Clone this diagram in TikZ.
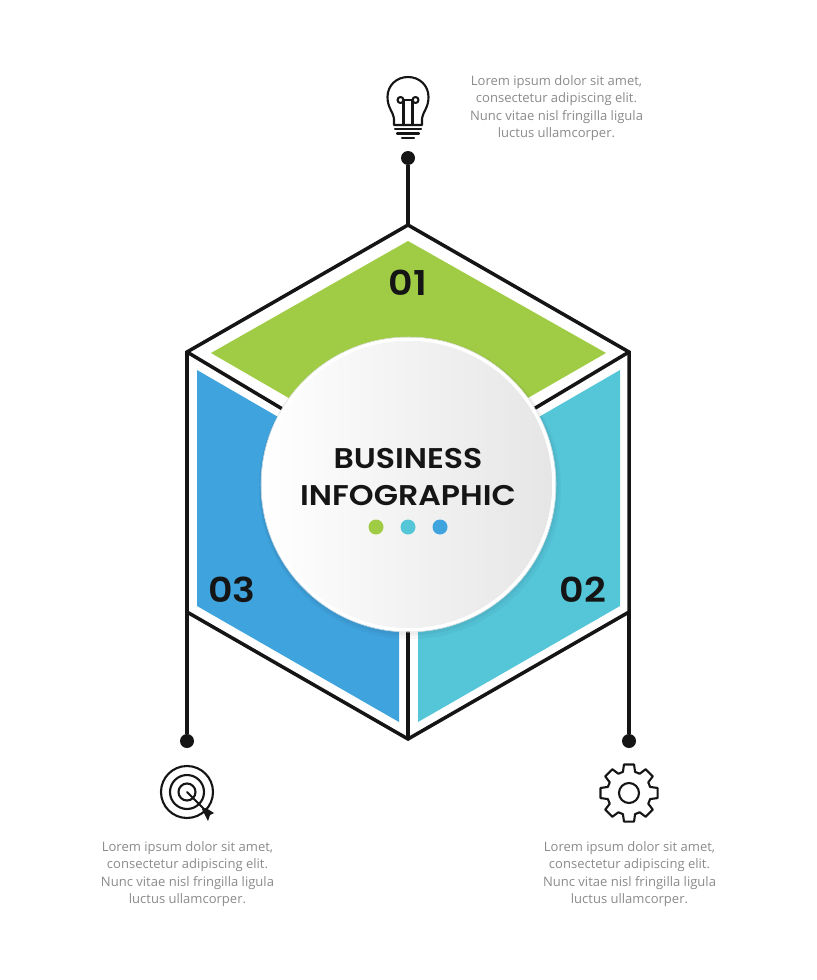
\documentclass[tikz,border=0pt]{standalone}
\usepackage{fontspec}
\setmainfont{Open Sans}
\newfontfamily\headfont[FakeStretch=1.11]{Poppins SemiBold}
\definecolor{leaf}{HTML}{A0CC45}
\definecolor{aqua}{HTML}{55C5D8}
\definecolor{sky}{HTML}{3FA3DD}
\definecolor{inkblack}{HTML}{151515}
\definecolor{loremgray}{HTML}{8A8A8A}
\tikzset{
  hexline/.style={draw=inkblack,line width=2pt,line join=miter},
  iconline/.style={draw=inkblack,line width=1.2pt,line cap=round,line join=round},
  enddot/.style={circle,fill=inkblack,inner sep=0pt,minimum size=0.28cm},
  minidot/.style={circle,inner sep=0pt,minimum size=0.3cm},
  numlabel/.style={font=\headfont\fontsize{19.5}{20}\selectfont,text=inkblack},
  lorem/.style={font=\fontsize{7.42}{9.95}\selectfont,text=loremgray,align=center},
}
\begin{document}
\begin{tikzpicture}[x=0.02cm,y=-0.02cm]
\useasboundingbox (0,0) rectangle (817,980);
\coordinate (apex) at (408,225);
\coordinate (upright) at (629,352);
\coordinate (lowright) at (629,612);
\coordinate (base) at (408,739);
\coordinate (lowleft) at (187,612);
\coordinate (upleft) at (187,352);
\coordinate (hub) at (408,484);
% colour panels
\fill[leaf] (408,241) -- (606,353) -- (408,467) -- (211,353) -- cycle;
\fill[sky] (197,370) -- (399,487) -- (399,722) -- (197,606) -- cycle;
\fill[aqua] (620,370) -- (418,487) -- (418,722) -- (620,606) -- cycle;
% hexagon
\draw[hexline] (apex) -- (upright) -- (lowright) -- (base) -- (lowleft) -- (upleft) -- cycle;
\draw[hexline] (upleft) -- (hub);
\draw[hexline] (upright) -- (hub);
\draw[hexline] (hub) -- (base);
% end points
\node[enddot] (topdot) at (408,158) {};
\node[enddot] (leftdot) at (187,741) {};
\node[enddot] (rightdot) at (629,741) {};
\draw[hexline] (apex) -- (topdot);
\draw[hexline] (lowleft) -- (leftdot);
\draw[hexline] (lowright) -- (rightdot);
% centre disc
\fill[black,opacity=0.03] (410,488) circle (151);
\fill[black,opacity=0.04] (409,486) circle (149.5);
\node[circle,draw=white,line width=2pt,inner sep=0pt,minimum size=5.82cm,left color=white,right color=black!10] (disc) at (408.5,484.5) {};
\draw[black!10,line width=0.3pt] (disc) circle (147.5);
\node[font=\headfont\fontsize{16.2}{21}\selectfont,text=inkblack,align=center] (title) at (408,477) {BUSINESS\\INFOGRAPHIC};
\node[minidot,fill=leaf] (dotone) at (376,527) {};
\node[minidot,fill=aqua] (dottwo) at (408,527) {};
\node[minidot,fill=sky] (dotthree) at (440,527) {};
% numbers
\node[numlabel] (numone) at (408,283) {01};
\node[numlabel] (numtwo) at (583,590) {02};
\node[numlabel] (numthree) at (232,590) {03};
% texts
\node[lorem] (textone) at (556.5,108) {Lorem ipsum dolor sit amet,\\consectetur adipiscing elit.\\Nunc vitae nisl fringilla ligula\\luctus ullamcorper.};
\node[lorem] (texttwo) at (629.5,874) {Lorem ipsum dolor sit amet,\\consectetur adipiscing elit.\\Nunc vitae nisl fringilla ligula\\luctus ullamcorper.};
\node[lorem] (textthree) at (187.5,874) {Lorem ipsum dolor sit amet,\\consectetur adipiscing elit.\\Nunc vitae nisl fringilla ligula\\luctus ullamcorper.};
% bulb
\draw[iconline] (394,125) -- (394,119) .. controls (393,111) and (387.5,108) .. (387.5,97) .. controls (387.5,85) and (397,77) .. (408,77) .. controls (419,77) and (428.5,85) .. (428.5,97) .. controls (428.5,108) and (423,111) .. (422,119) -- (422,125) -- cycle;
\draw[iconline] (403.5,125) -- (403.5,100) (412.5,125) -- (412.5,100) (403.5,100) -- (412.5,100);
\draw[iconline] (400.5,100) circle (3) (415.5,100) circle (3);
\draw[iconline] (395,129) -- (421,129) (397,133.5) -- (419,133.5) (402,138) -- (414,138);
% target
\draw[iconline] (187,792) circle (26) (187,792) circle (17) (187,792) circle (8.5);
\draw[iconline] (187,792) -- (206,811);
\fill[inkblack] (202,809) -- (206,808) -- (214,813) -- (210,815) -- (208,821) -- (204,813) -- cycle;
% gear
\draw[iconline,shift={(629,793)}] (-16:22) \foreach \a in {0,45,...,315} { -- ({\a-16}:22) -- ({\a-10}:29) -- ({\a+10}:29) -- ({\a+16}:22) } -- cycle;
\draw[iconline] (629,793) circle (10);
\end{tikzpicture}
\end{document}
